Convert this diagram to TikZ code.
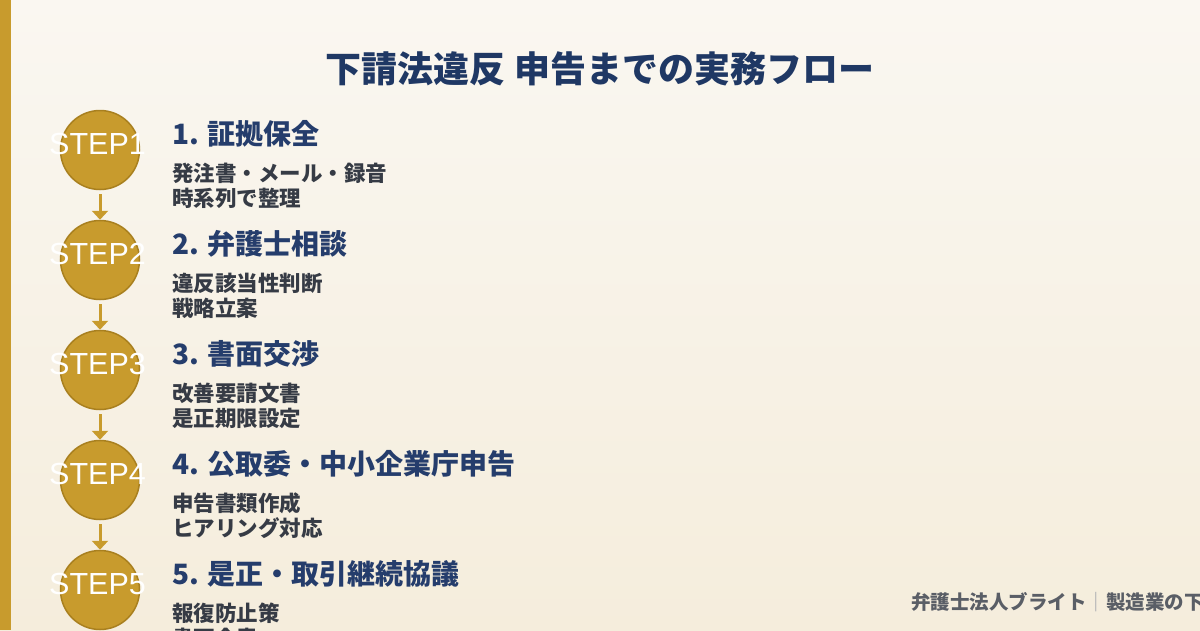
\documentclass[tikz,border=0pt]{standalone}
\usepackage{fontspec}
\setmainfont{Noto Sans CJK JP}
\newfontfamily\stepfont{Liberation Sans}
\usetikzlibrary{arrows.meta}
\definecolor{bgtop}{HTML}{FAF7F1}
\definecolor{bgbot}{HTML}{F5EDDC}
\definecolor{gold}{HTML}{C89B2D}
\definecolor{golddark}{HTML}{A9801F}
\definecolor{navy}{HTML}{1F3864}
\definecolor{stepnavy}{HTML}{253D6C}
\definecolor{subtext}{HTML}{363B45}
\definecolor{foot}{HTML}{5A5E66}
\tikzset{
  stepcircle/.style={circle, fill=gold, draw=golddark, line width=1.5pt, minimum size=79pt, inner sep=0pt},
  steplabel/.style={text=white, font=\stepfont\fontsize{30.5}{30.5}\selectfont, inner sep=0pt},
  steptitle/.style={anchor=base west, text=stepnavy, font=\bfseries\fontsize{28}{28}\selectfont, inner sep=0pt},
  stepsub/.style={anchor=base west, text=subtext, font=\bfseries\fontsize{21.5}{21.5}\selectfont, inner sep=0pt},
  flowarrow/.style={draw=gold, line width=3pt, -{Triangle[width=16pt,length=9pt]}}
}
\begin{document}
\begin{tikzpicture}[x=1pt,y=-1pt]
\useasboundingbox (0,0) rectangle (1200,630);
\clip (0,0) rectangle (1200,630);
\shade[top color=bgtop, bottom color=bgbot] (0,0) rectangle (1200,630);
\fill[gold] (0,0) rectangle (11,630);
\node[anchor=base, text=navy, font=\bfseries\fontsize{36}{36}\selectfont, inner sep=0pt] (title) at (600,82) {下請法違反 申告までの実務フロー};
\foreach \i/\t/\a/\b in {1/{1. 証拠保全}/{発注書・メール・録音}/{時系列で整理},
                        2/{2. 弁護士相談}/{違反該当性判断}/{戦略立案},
                        3/{3. 書面交渉}/{改善要請文書}/{是正期限設定},
                        4/{4. 公取委・中小企業庁申告}/{申告書類作成}/{ヒアリング対応},
                        5/{5. 是正・取引継続協議}/{報復防止策}/{書面合意}}{
  \pgfmathsetmacro{\yy}{150+110*(\i-1)}
  \node[stepcircle] (c\i) at (100,\yy) {};
  \node[steplabel] (s\i) at (97.5,\yy-6) {STEP\i};
  \node[steptitle] (t\i) at (172,\yy-6) {\t};
  \node[stepsub] (a\i) at (172,\yy+31) {\a};
  \node[stepsub] (b\i) at (172,\yy+56) {\b};
}
\foreach \i/\j in {1/2,2/3,3/4,4/5}{
  \draw[flowarrow] (c\i.south) ++(0,4) -- (c\j.north);
}
\node[anchor=base west, text=foot, font=\bfseries\fontsize{19.5}{19.5}\selectfont, inner sep=0pt] (footer) at (911,609) {弁護士法人ブライト{\color{foot!50}｜}製造業の下請法違反対応};
\end{tikzpicture}
\end{document}
